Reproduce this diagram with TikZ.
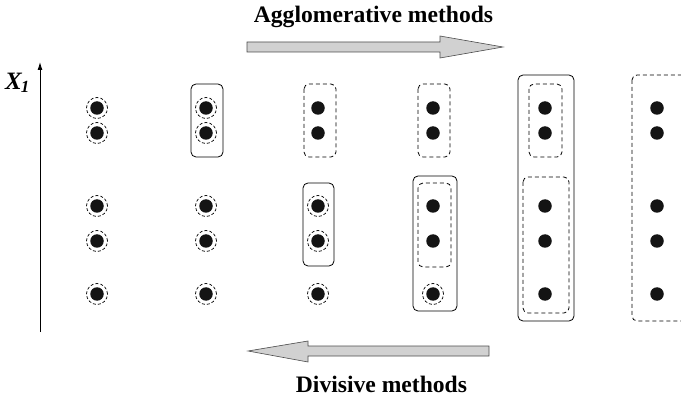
\documentclass[tikz,border=0pt]{standalone}
\usepackage{fontspec}
\setmainfont{Liberation Serif}
\usetikzlibrary{arrows.meta}
\begin{document}
\begin{tikzpicture}[x=1pt,y=-1pt,
  dot/.style={circle,fill=black!92,minimum size=13.5pt,inner sep=0pt},
  ring/.style={draw,dashed,dash pattern=on 3pt off 2pt,line width=0.7pt},
  sbox/.style={draw,line width=0.8pt,rounded corners=5pt},
  dbox/.style={draw,line width=0.8pt,rounded corners=5pt,dash pattern=on 4pt off 3pt},
  bigarrow/.style={draw=black!70,fill=black!18,line width=0.6pt},
  lbl/.style={font=\bfseries\fontsize{23.6}{26}\selectfont,anchor=base,inner sep=0pt}]
\useasboundingbox (0,0) rectangle (681,401);
% axis
\coordinate (ab) at (40,332);
\coordinate (at) at (40,62);
\draw[line width=0.9pt,-{Latex[length=8pt,width=5pt]}] (ab) -- (at);
\node[anchor=base west,inner sep=0pt] (x1) at (5,90) {\fontsize{25}{27}\selectfont\bfseries\itshape X\kern-1pt\raisebox{-3pt}{\fontsize{17}{19}\selectfont 1}};
% dots
\foreach \c/\x in {1/97,2/206,3/318,4/433,5/545,6/657}{
  \foreach \r/\y in {1/108,2/133,3/206,4/241,5/294}{
    \node[dot] (d\c\r) at (\x,\y) {};
  }
}
% dashed rings
\foreach \n in {11,12,13,14,15,21,22,23,24,25,33,34,35,45}{
  \draw[ring] (d\n) circle (10.5pt);
}
% boxes
\draw[sbox] (191,84) rectangle (223,157);
\draw[dbox] (304,84) rectangle (336,157);
\draw[sbox] (303,183) rectangle (334,266);
\draw[dbox] (418,84) rectangle (450,157);
\draw[sbox] (413,176) rectangle (457,311);
\draw[dbox] (418,183) rectangle (451,267);
\draw[sbox] (518,75) rectangle (574,321);
\draw[dbox] (529,84) rectangle (562,157);
\draw[dbox] (523,177) rectangle (569,313);
\draw[dbox] (632,75) rectangle (690,321);
% arrows
\draw[bigarrow] (247,42) -- (440,42) -- (440,36) -- (503,47) -- (440,58) -- (440,52) -- (247,52) -- cycle;
\draw[bigarrow] (489,346) -- (308,346) -- (308,341) -- (248,351) -- (308,362) -- (308,356) -- (489,356) -- cycle;
\node[lbl] (ag) at (373.5,23) {Agglomerative methods};
\node[lbl] (dv) at (381.5,392) {Divisive methods};
\end{tikzpicture}
\end{document}
